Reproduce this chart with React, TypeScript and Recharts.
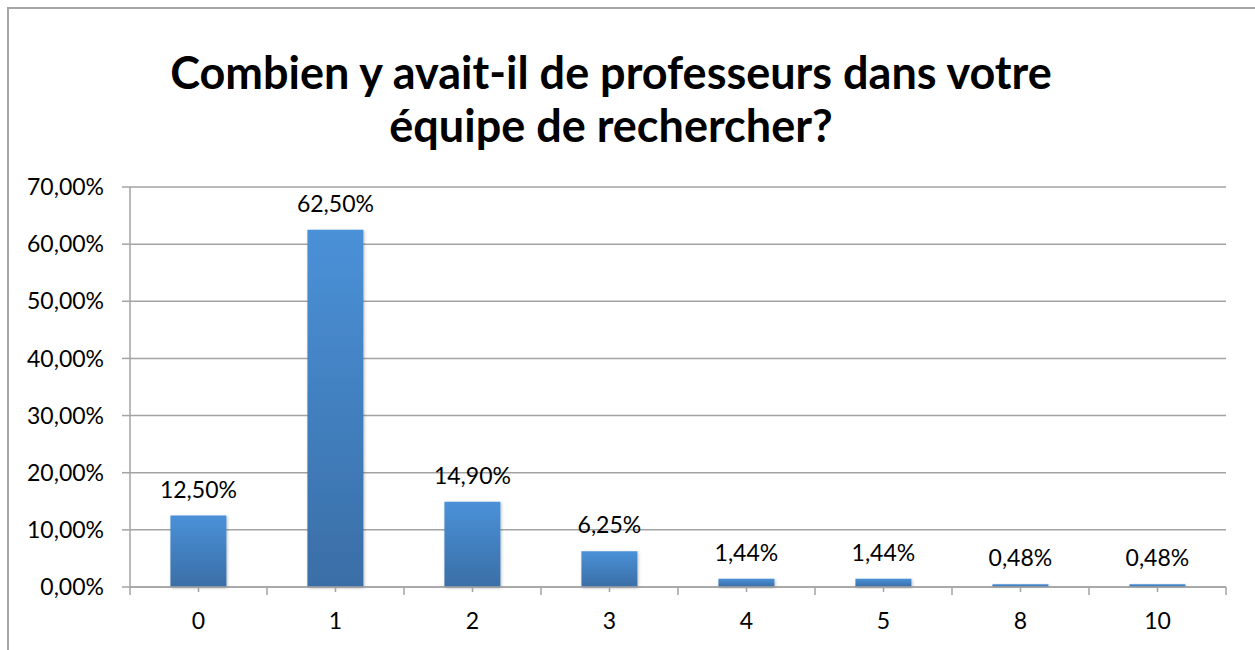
import { BarChart, Bar, XAxis, YAxis, CartesianGrid, LabelList } from "recharts";

const categories = ["0", "1", "2", "3", "4", "5", "8", "10"];
const percentages = [12.5, 62.5, 14.9, 6.25, 1.44, 1.44, 0.48, 0.48];
const yTicks = [0, 10, 20, 30, 40, 50, 60, 70];

const data = categories.map((name, i) => ({ name, value: percentages[i] }));

const FONT = "Lato, 'Open Sans', sans-serif";
const AXIS_COLOR = "#a3a3a3";
const TEXT_SIZE = 23;

const fmt = (v: number) => v.toFixed(2).replace(".", ",") + "%";

function CategoryTick(props: any) {
  const { x, y, payload, index, visibleTicksCount } = props;
  const half = payload?.offset ?? 68.5;
  const axisY = y - 8;
  const isLast = index === (visibleTicksCount ?? categories.length) - 1;
  return (
    <g>
      <line x1={x} y1={axisY} x2={x} y2={axisY + 5} stroke={AXIS_COLOR} strokeWidth={1.5} />
      <line x1={x - half} y1={axisY} x2={x - half} y2={axisY + 8} stroke={AXIS_COLOR} strokeWidth={1.5} />
      {isLast && (
        <line x1={x + half} y1={axisY} x2={x + half} y2={axisY + 8} stroke={AXIS_COLOR} strokeWidth={1.5} />
      )}
      <text x={x} y={axisY + 34} dy="0.35em" textAnchor="middle" fill="#000" fontSize={TEXT_SIZE} fontFamily={FONT}>
        {payload.value}
      </text>
    </g>
  );
}

export default function App() {
  return (
    <div
      style={{
        position: "absolute",
        left: 0,
        top: 0,
        width: 1255,
        height: 650,
        overflow: "hidden",
        background: "#fff",
        fontFamily: FONT,
      }}
    >
      <div
        style={{
          position: "absolute",
          left: 7,
          top: 7,
          width: 1300,
          height: 700,
          borderLeft: "2px solid #a6a6a6",
          borderTop: "2px solid #a6a6a6",
        }}
      />
      <div
        style={{
          position: "absolute",
          left: 0,
          width: 1222,
          top: 46,
          textAlign: "center",
          fontSize: 45,
          fontWeight: 700,
          lineHeight: "53px",
          color: "#000",
        }}
      >
        Combien y avait-il de professeurs dans votre
        <br />
        équipe de rechercher?
      </div>
      <div style={{ position: "absolute", left: 0, top: 0 }}>
        <BarChart
          width={1255}
          height={650}
          data={data}
          margin={{ top: 187, right: 29, left: 0, bottom: 0 }}
          barCategoryGap="29.5%"
        >
          <defs>
            <linearGradient id="barFill" x1="0" y1="0" x2="0" y2="1">
              <stop offset="0%" stopColor="#4a91d8" />
              <stop offset="100%" stopColor="#3a6ea6" />
            </linearGradient>
            <filter id="barShadow" x="-20%" y="-20%" width="140%" height="140%">
              <feDropShadow dx="1" dy="1" stdDeviation="1.5" floodColor="#000" floodOpacity="0.25" />
            </filter>
          </defs>
          <CartesianGrid vertical={false} stroke={AXIS_COLOR} strokeWidth={1.5} />
          <XAxis
            dataKey="name"
            height={63}
            axisLine={{ stroke: AXIS_COLOR, strokeWidth: 1.5 }}
            tickLine={false}
            tick={<CategoryTick />}
            interval={0}
          />
          <YAxis
            width={130}
            domain={[0, 70]}
            ticks={yTicks}
            tickFormatter={fmt}
            axisLine={{ stroke: AXIS_COLOR, strokeWidth: 1.5 }}
            tickLine={{ stroke: AXIS_COLOR, strokeWidth: 1.5 }}
            tickSize={8}
            tickMargin={18}
            tick={{ fill: "#000", fontSize: TEXT_SIZE, fontFamily: FONT }}
          />
          <Bar dataKey="value" fill="url(#barFill)" filter="url(#barShadow)" isAnimationActive={false}>
            <LabelList
              dataKey="value"
              position="top"
              offset={18}
              formatter={(v: any) => fmt(Number(v))}
              style={{ fill: "#000", fontSize: TEXT_SIZE, fontFamily: FONT }}
            />
          </Bar>
        </BarChart>
      </div>
    </div>
  );
}
